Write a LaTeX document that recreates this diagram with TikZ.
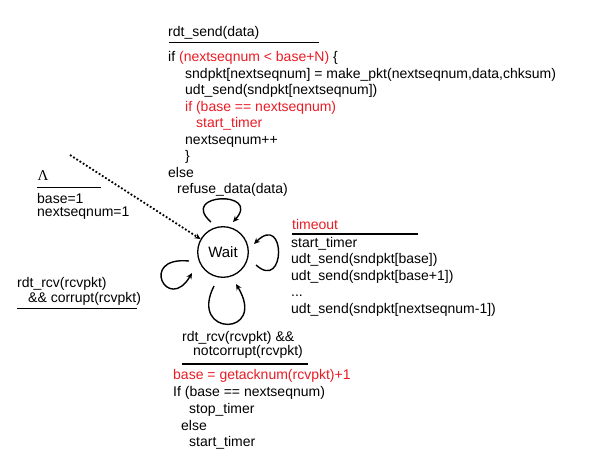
\documentclass[tikz,border=0pt]{standalone}
\usepackage{fontspec}
\setmainfont{Liberation Sans}
\newfontfamily\lamfont{Liberation Serif}
\usetikzlibrary{arrows.meta}
\definecolor{codered}{RGB}{232,28,36}
\begin{document}
\begin{tikzpicture}[x=1pt,y=1pt,
  txt/.style={anchor=base west, inner sep=0pt, font=\fontsize{14}{16.5}\selectfont},
  hot/.style={txt, text=codered},
  uline/.style={line width=1.8pt},
  selfloop/.style={line width=1.4pt, -{Stealth[length=6pt,width=5.5pt]}}]
\useasboundingbox (0,0) rectangle (594,-456);

% top action block
\node[txt] (s0) at (168,-36) {rdt\_send(data)};
\draw[uline] (169,-42.5) -- (319,-42.5);
\node[txt] (s1) at (168,-61.5) {if \textcolor{codered}{(nextseqnum < base+N)} \{};
\node[txt] (s2) at (185,-78) {sndpkt[nextseqnum] = make\_pkt(nextseqnum,data,chksum)};
\node[txt] (s3) at (185,-94.5) {udt\_send(sndpkt[nextseqnum])};
\node[hot] (s4) at (185,-111) {if (base == nextseqnum)};
\node[hot] (s5) at (196,-127.5) {start\_timer};
\node[txt] (s6) at (185,-144) {nextseqnum++};
\node[txt] (s7) at (185,-160.5) {\}};
\node[txt] (s8) at (168,-177) {else};
\node[txt] (s9) at (177,-193.5) {refuse\_data(data)};

% init
\node[anchor=base west, inner sep=0pt, font=\lamfont\fontsize{15}{15}\selectfont] (lam) at (37.5,-180) {Λ};
\draw[uline] (37,-187.5) -- (101,-187.5);
\node[txt] (i1) at (37,-203.5) {base=1};
\node[txt] (i2) at (37,-216.5) {nextseqnum=1};

% left label
\node[txt] (l1) at (17,-287) {rdt\_rcv(rcvpkt)};
\node[txt] (l2) at (28,-302) {\&\& corrupt(rcvpkt)};
\draw[uline] (17,-308.5) -- (137,-308.5);

% timeout
\node[hot] (o1) at (292,-229) {timeout};
\draw[uline] (292,-234) -- (418,-234);
\node[txt] (o2) at (291,-247) {start\_timer};
\node[txt] (o3) at (291,-263.5) {udt\_send(sndpkt[base])};
\node[txt] (o4) at (291,-280) {udt\_send(sndpkt[base+1])};
\node[txt] (o5) at (291,-296.5) {...};
\node[txt] (o6) at (291,-313) {udt\_send(sndpkt[nextseqnum-1])};

% bottom
\node[txt] (b1) at (182,-341.5) {rdt\_rcv(rcvpkt) \&\&};
\node[txt] (b2) at (193,-355) {notcorrupt(rcvpkt)};
\draw[uline] (182,-364) -- (308,-364);
\node[hot] (b3) at (173,-379) {base = getacknum(rcvpkt)+1};
\node[txt] (b4) at (173,-396) {If (base == nextseqnum)};
\node[txt] (b5) at (189,-413) {stop\_timer};
\node[txt] (b6) at (181,-430) {else};
\node[txt] (b7) at (189,-446.5) {start\_timer};

% state
\node[draw, circle, line width=1.3pt, minimum size=50.6pt, inner sep=0pt,
      font=\fontsize{15}{15}\selectfont] (w) at (223,-252) {Wait};

\coordinate (init) at (70,-155);
\draw[line width=1.8pt, dotted, -{Stealth[length=6pt,width=5.5pt]}] (init) -- (w.150);

% self loops
\draw[selfloop] (211,-222) .. controls (178,-193) and (262,-190) .. (233,-222);
\draw[selfloop] (256,-265) .. controls (286,-292) and (286,-212) .. (254,-244);
\draw[selfloop] (189,-261) .. controls (138,-256) and (168,-314) .. (192,-273);
\draw[selfloop] (214,-286) .. controls (188,-337) and (268,-337) .. (236,-284);
\end{tikzpicture}
\end{document}
